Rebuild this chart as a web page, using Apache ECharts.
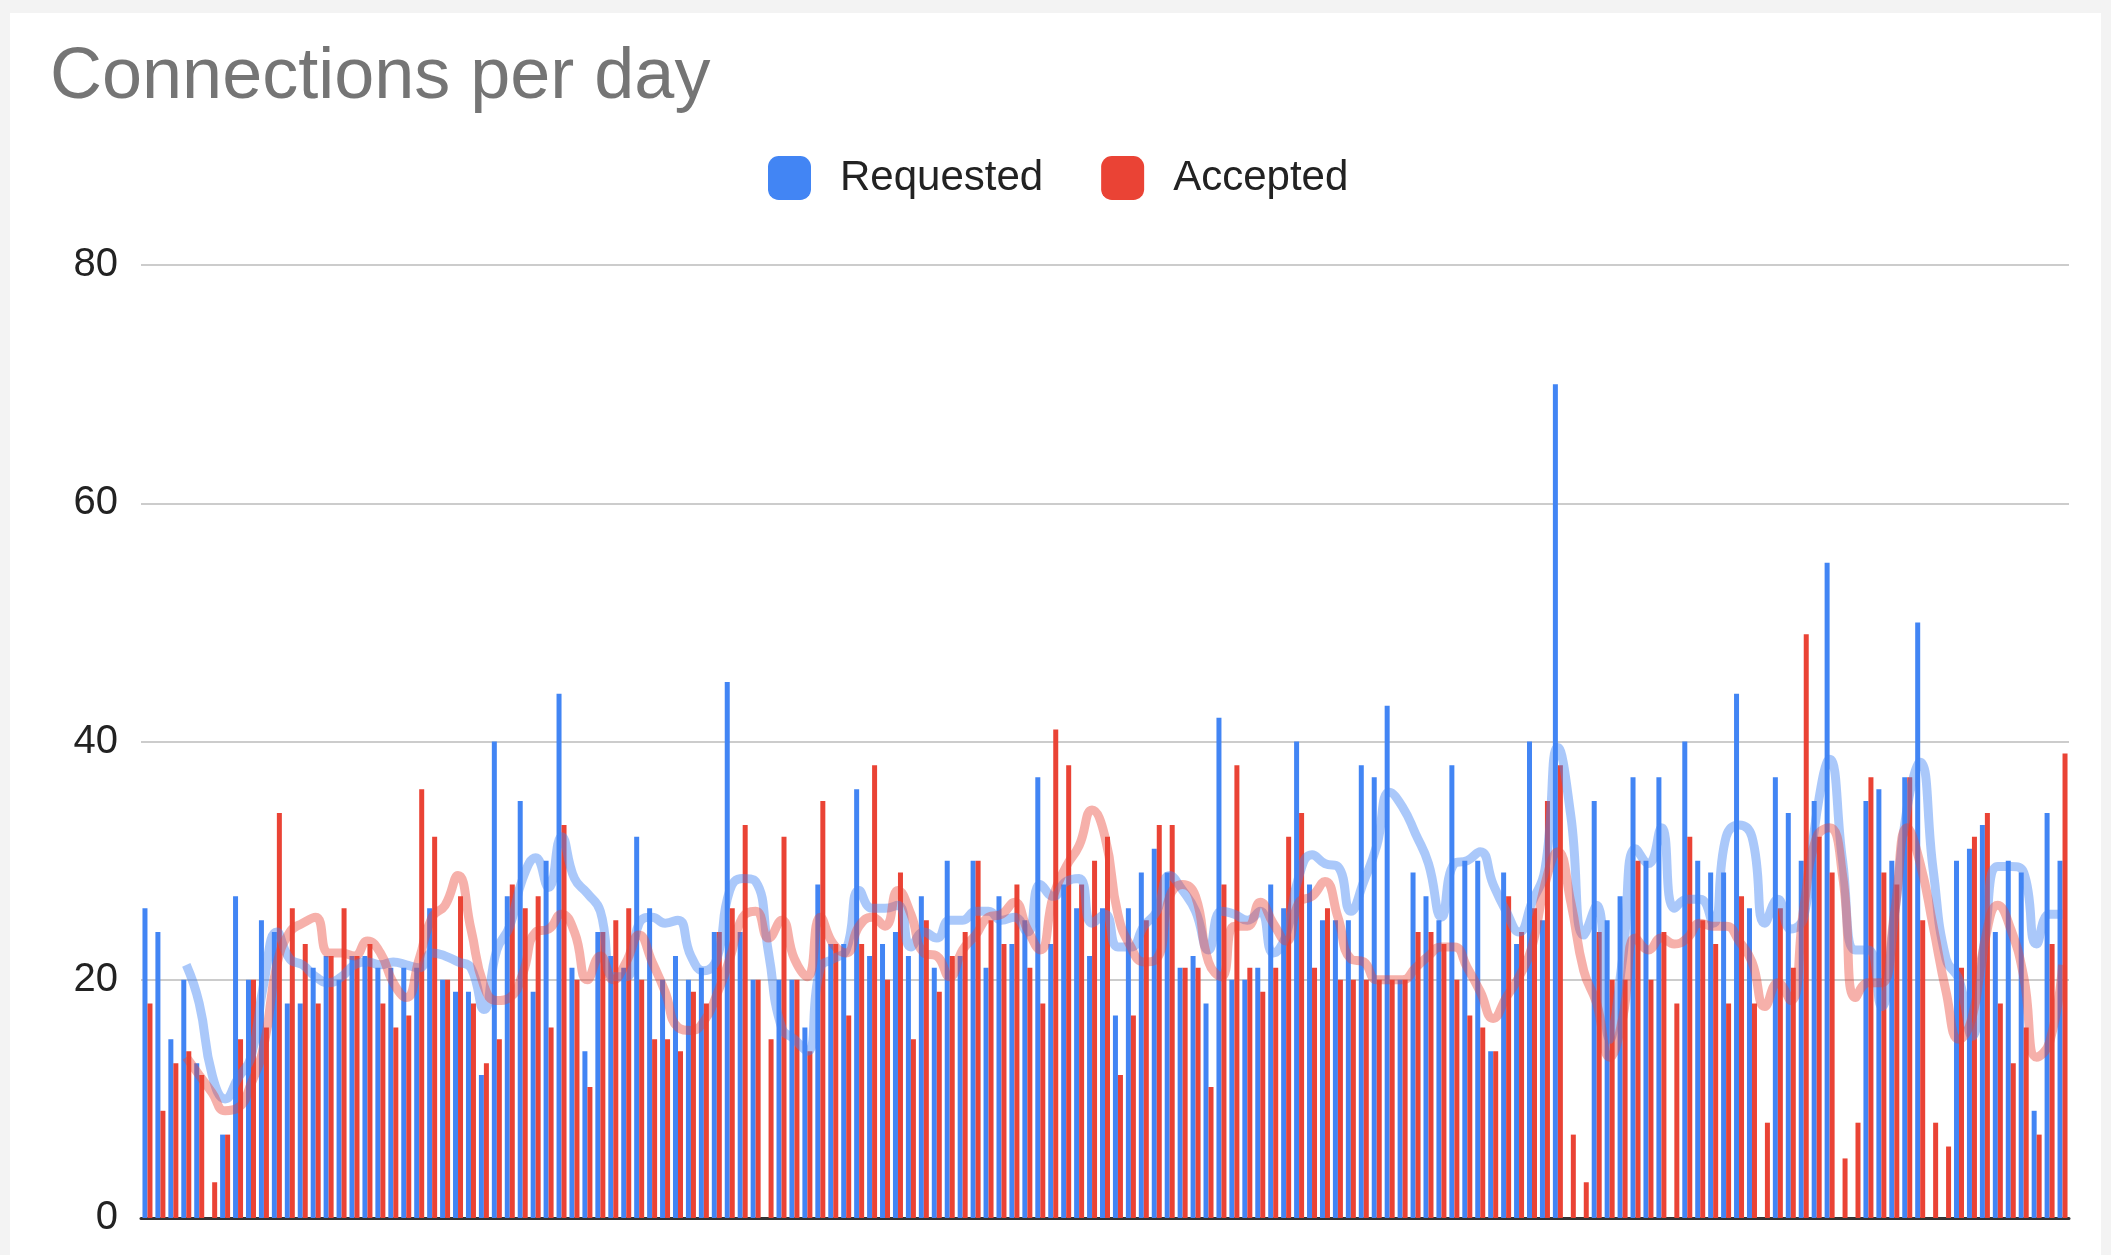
<!DOCTYPE html>
<html>
<head>
<meta charset="utf-8">
<script src="https://cdn.jsdelivr.net/npm/echarts@6/dist/echarts.min.js"></script>
<style>
  html, body { margin: 0; padding: 0; background: #f3f3f3; width: 2111px; height: 1255px; overflow: hidden; }
  #card { position: absolute; left: 10px; top: 13px; width: 2091px; height: 1242px; background: #ffffff; }
  #chart { position: absolute; left: 0; top: 0; width: 2111px; height: 1255px; }
</style>
</head>
<body>
<div id="card"></div>
<div id="chart"></div>
<script>
// Daily values (149 days)
const requested = [
  26, 24, 15, 20, 13, 0, 7, 27, 20, 25,
  24, 18, 18, 21, 22, 20, 22, 22, 21, 21,
  21, 21, 26, 20, 19, 19, 12, 40, 27, 35,
  19, 30, 44, 21, 14, 24, 22, 21, 32, 26,
  20, 22, 20, 21, 24, 45, 24, 20, 0, 20,
  20, 16, 28, 23, 23, 36, 22, 23, 24, 22,
  27, 21, 30, 22, 30, 21, 27, 23, 25, 37,
  23, 28, 26, 22, 26, 17, 26, 29, 31, 29,
  21, 22, 18, 42, 20, 20, 21, 28, 26, 40,
  28, 25, 25, 25, 38, 37, 43, 20, 29, 27,
  25, 38, 30, 30, 14, 29, 23, 40, 25, 70,
  0, 0, 35, 25, 27, 37, 30, 37, 0, 40,
  30, 29, 29, 44, 26, 0, 37, 34, 30, 35,
  55, 0, 0, 35, 36, 30, 37, 50, 0, 0,
  30, 31, 33, 24, 30, 29, 9, 34, 30
];
const accepted = [
  18, 9, 13, 14, 12, 3, 7, 15, 20, 16,
  34, 26, 23, 18, 22, 26, 22, 23, 18, 16,
  17, 36, 32, 20, 27, 18, 13, 15, 28, 26,
  27, 16, 33, 20, 11, 24, 25, 26, 20, 15,
  15, 14, 19, 18, 24, 26, 33, 20, 15, 32,
  20, 14, 35, 23, 17, 23, 38, 20, 29, 15,
  25, 19, 22, 24, 30, 25, 23, 28, 21, 18,
  41, 38, 28, 30, 32, 12, 17, 25, 33, 33,
  21, 21, 11, 28, 38, 21, 19, 21, 32, 34,
  21, 26, 20, 20, 20, 20, 20, 20, 24, 24,
  23, 20, 17, 16, 14, 27, 24, 26, 35, 38,
  7, 3, 24, 20, 20, 30, 20, 24, 18, 32,
  25, 23, 18, 27, 18, 8, 26, 21, 49, 32,
  29, 5, 8, 37, 29, 28, 37, 25, 8, 6,
  21, 32, 34, 18, 13, 16, 7, 23, 39
];
const days = requested.map((_, i) => 'Day ' + (i + 1));
const yTicks = [0, 20, 40, 60, 80];
const trendPeriod = 4; // moving-average trendline period

function movingAverage(arr, n) {
  return arr.map((_, i) => {
    if (i < n - 1) return null;
    let s = 0;
    for (let k = i - n + 1; k <= i; k++) s += arr[k];
    return +(s / n).toFixed(2);
  });
}

const chart = echarts.init(document.getElementById('chart'), null, { renderer: 'canvas' });
const FONT = "'Liberation Sans', Arial, sans-serif";

chart.setOption({
  backgroundColor: 'transparent',
  animation: false,
  title: {
    text: 'Connections per day',
    left: 45,
    top: 37,
    textStyle: { fontFamily: FONT, fontWeight: 'normal', fontSize: 72, color: '#757575' }
  },
  legend: {
    data: ['Requested', 'Accepted'],
    left: 763,
    top: 151,
    icon: 'roundRect',
    itemWidth: 43,
    itemHeight: 44,
    itemGap: 58,
    textStyle: { fontFamily: FONT, fontSize: 42, color: '#222222', padding: [0, 0, 0, 24] }
  },
  grid: { left: 141, right: 42, top: 265, bottom: 37, containLabel: false },
  xAxis: {
    type: 'category',
    data: days,
    boundaryGap: true,
    axisLine: { lineStyle: { color: '#333333', width: 3 } },
    axisTick: { show: false },
    axisLabel: { show: false },
    splitLine: { show: false }
  },
  yAxis: {
    type: 'value',
    min: yTicks[0],
    max: yTicks[yTicks.length - 1],
    interval: 20,
    axisLine: { show: false },
    axisTick: { show: false },
    axisLabel: { fontFamily: FONT, fontSize: 40, color: '#222222', margin: 23 },
    splitLine: { lineStyle: { color: '#cccccc', width: 2 } }
  },
  series: [
    {
      name: 'Requested', type: 'bar', data: requested,
      barWidth: 5, barGap: '0%',
      itemStyle: { color: '#4285f4' }
    },
    {
      name: 'Accepted', type: 'bar', data: accepted,
      barWidth: 5, barGap: '0%',
      itemStyle: { color: '#ea4335' }
    },
    {
      name: 'Requested trend', type: 'line', data: movingAverage(requested, trendPeriod),
      smooth: 0.5, symbol: 'none', z: 5,
      lineStyle: { color: 'rgba(66,133,244,0.45)', width: 9 }
    },
    {
      name: 'Accepted trend', type: 'line', data: movingAverage(accepted, trendPeriod),
      smooth: 0.5, symbol: 'none', z: 5,
      lineStyle: { color: 'rgba(234,67,53,0.42)', width: 9 }
    }
  ]
});
</script>
</body>
</html>
